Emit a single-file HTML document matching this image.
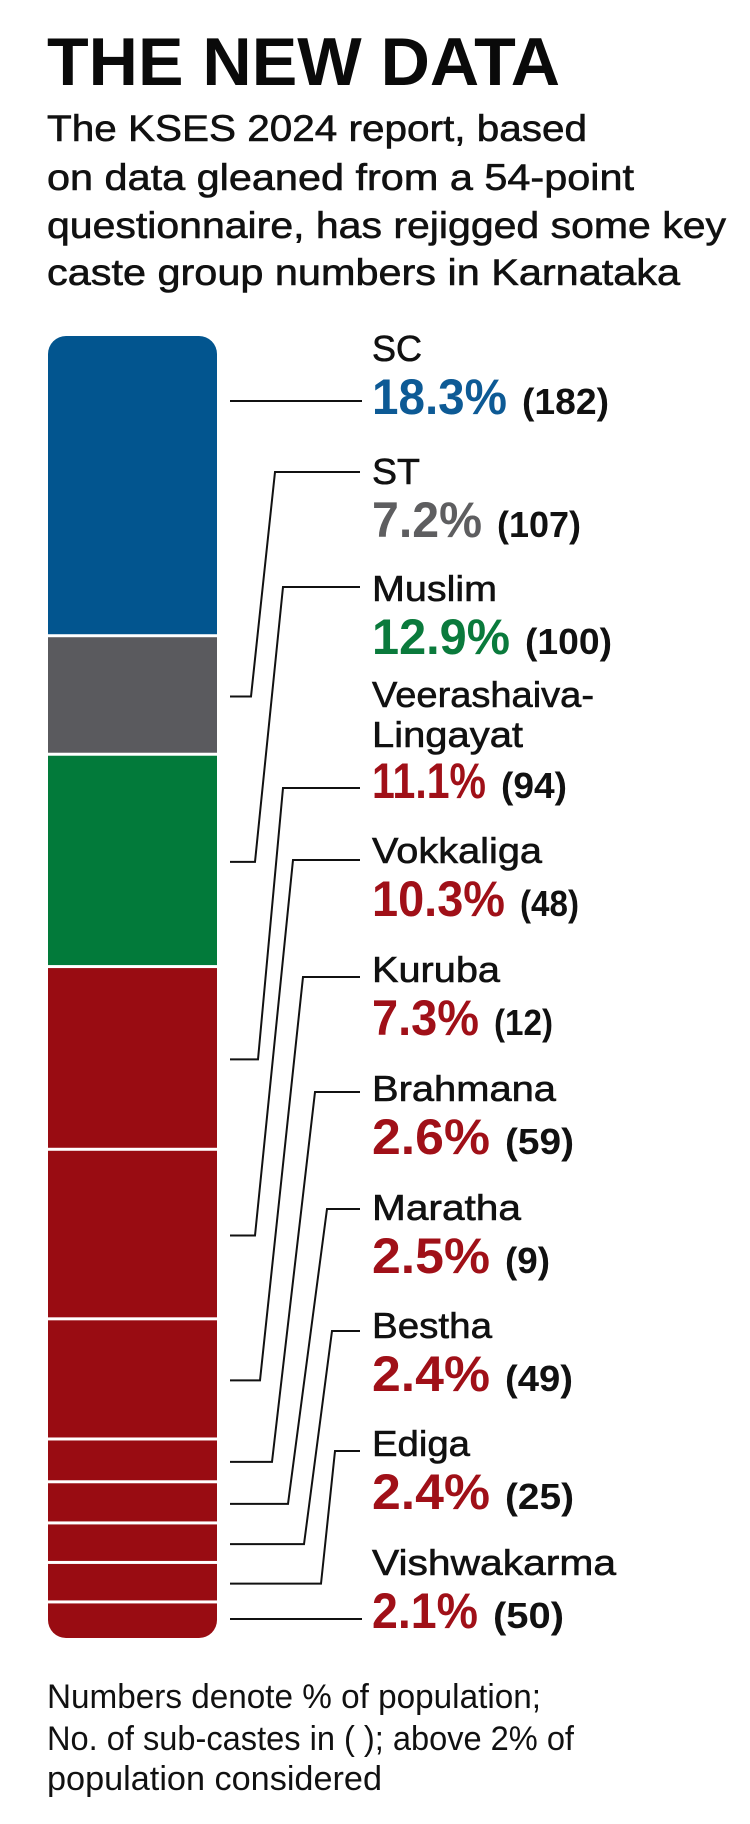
<!DOCTYPE html>
<html><head><meta charset="utf-8"><style>
html,body{margin:0;padding:0;background:#fff;}
svg{display:block;font-family:"Liberation Sans",sans-serif;}
</style></head><body>
<svg id="chart" width="750" height="1824" viewBox="0 0 750 1824" xmlns="http://www.w3.org/2000/svg">
<rect x="0" y="0" width="750" height="1824" fill="#fff"/>
<text x="47" y="85" font-size="68" font-weight="bold" textLength="513" lengthAdjust="spacingAndGlyphs" fill="#0a0a0a">THE NEW DATA</text>
<g font-size="37" fill="#111" stroke="#111" stroke-width="0.6">
<text x="47" y="141" textLength="540" lengthAdjust="spacingAndGlyphs">The KSES 2024 report, based</text>
<text x="47" y="190" textLength="587" lengthAdjust="spacingAndGlyphs">on data gleaned from a 54-point</text>
<text x="47" y="238" textLength="679" lengthAdjust="spacingAndGlyphs">questionnaire, has rejigged some key</text>
<text x="47" y="285" textLength="633" lengthAdjust="spacingAndGlyphs">caste group numbers in Karnataka</text>
</g>
<defs><clipPath id="barclip"><rect x="48" y="336" width="169" height="1302" rx="18" ry="18"/></clipPath></defs>
<g id="bars" clip-path="url(#barclip)"></g>
<g id="connectors"></g>
<g id="labels"></g>
<g font-size="34" fill="#111">
<text x="47" y="1708" textLength="494" lengthAdjust="spacingAndGlyphs">Numbers denote % of population;</text>
<text x="47" y="1750" textLength="527" lengthAdjust="spacingAndGlyphs">No. of sub-castes in ( ); above 2% of</text>
<text x="47" y="1790" textLength="335" lengthAdjust="spacingAndGlyphs">population considered</text>
</g>
</svg>
<script>
const categories = ["SC","ST","Muslim","Veerashaiva-Lingayat","Vokkaliga","Kuruba","Brahmana","Maratha","Bestha","Ediga","Vishwakarma"];
const shares = [18.3,7.2,12.9,11.1,10.3,7.3,2.6,2.5,2.4,2.4,2.1];
const subcastes = [182,107,100,94,48,12,59,9,49,25,50];
const groupKind = ["sc","st","muslim","other","other","other","other","other","other","other","other"];

const NS="http://www.w3.org/2000/svg";
const barTop=336, barBottom=1638, barX=48, barW=169;
const fills={sc:"#02558f",st:"#5a5a5e",muslim:"#027a3a",other:"#990c12"};
const valColors={sc:"#0d5a95",st:"#5e5e60",muslim:"#0a7a3c",other:"#a01018"};
const total=shares.reduce((a,b)=>a+b,0);
function yScale(cum){return barTop+(cum/total)*(barBottom-barTop);}

// label layout (pixel positions of text rows, not data)
const nameBase=[361,484,601,747,863,982,1101,1220,1338,1456,1575];
const lineY=[401,472,587,788,860,977,1092,1209,1331,1451,1619];
const lowX=[null,251,255,258,255,260,272,288,304,321,null];
const upX=[null,275,283,283,293,303,315,327,332,335,null];
const nameW=[50,48,125,151,170,128,184,149,120,98,244];
const valW=[135,110,138,114,133,107,118,118,118,118,106];
const parenW=[87,84,87,66,59,59,69,45,68,69,71];

const bars=document.getElementById('bars');
const conns=document.getElementById('connectors');
const labels=document.getElementById('labels');
let cum=0;
shares.forEach((v,i)=>{
  const y0=yScale(cum), y1=yScale(cum+v); cum+=v;
  const r=document.createElementNS(NS,'rect');
  
  
  r.setAttribute('x',barX); r.setAttribute('y',y0);
  r.setAttribute('width',barW); r.setAttribute('height',Math.max(0,y1-y0-(i<shares.length-1?3:0)));
  r.setAttribute('fill',fills[groupKind[i]]);
  bars.appendChild(r);

  let anchor=(y0+y1)/2;
  if(i===0) anchor=lineY[0];
  if(i===shares.length-1) anchor=lineY[i];
  const p=document.createElementNS(NS,'polyline');
  
  
  let pts;
  if(lowX[i]===null) pts=`230,${anchor} 362,${anchor}`;
  else pts=`230,${anchor} ${lowX[i]},${anchor} ${upX[i]},${lineY[i]} 360,${lineY[i]}`;
  p.setAttribute('points',pts);
  p.setAttribute('fill','none'); p.setAttribute('stroke','#111'); p.setAttribute('stroke-width','2');
  conns.appendChild(p);

  const g=document.createElementNS(NS,'g');
  
  
  const lines = i===3 ? ["Veerashaiva-","Lingayat"] : [categories[i]];
  lines.forEach((t,k)=>{
    const tx=document.createElementNS(NS,'text');
    
    
    tx.setAttribute('x',372);
    tx.setAttribute('y', lines.length===2 ? nameBase[i]-40+k*40 : nameBase[i]);
    tx.setAttribute('font-size','36'); tx.setAttribute('fill','#111');
    tx.setAttribute('stroke','#111'); tx.setAttribute('stroke-width','0.6');
    tx.setAttribute('textLength', lines.length===2 ? (k===0?222:151) : nameW[i]);
    tx.setAttribute('lengthAdjust','spacingAndGlyphs');
    tx.textContent=t; g.appendChild(tx);
  });
  const vb = i===3 ? 798 : nameBase[i]+53;
  const vt=document.createElementNS(NS,'text');
  
  
  vt.setAttribute('x',372); vt.setAttribute('y',vb);
  vt.setAttribute('font-size','50'); vt.setAttribute('font-weight','bold');
  vt.setAttribute('fill',valColors[groupKind[i]]);
  vt.setAttribute('textLength',valW[i]); vt.setAttribute('lengthAdjust','spacingAndGlyphs');
  vt.textContent=v.toFixed(1)+'%'; g.appendChild(vt);
  const pt=document.createElementNS(NS,'text');
  
  
  pt.setAttribute('x',372+valW[i]+15); pt.setAttribute('y',vb);
  pt.setAttribute('font-size','36'); pt.setAttribute('font-weight','bold'); pt.setAttribute('fill','#111');
  pt.setAttribute('textLength',parenW[i]); pt.setAttribute('lengthAdjust','spacingAndGlyphs');
  pt.textContent='('+subcastes[i]+')'; g.appendChild(pt);
  labels.appendChild(g);
});
</script>
</body></html>
